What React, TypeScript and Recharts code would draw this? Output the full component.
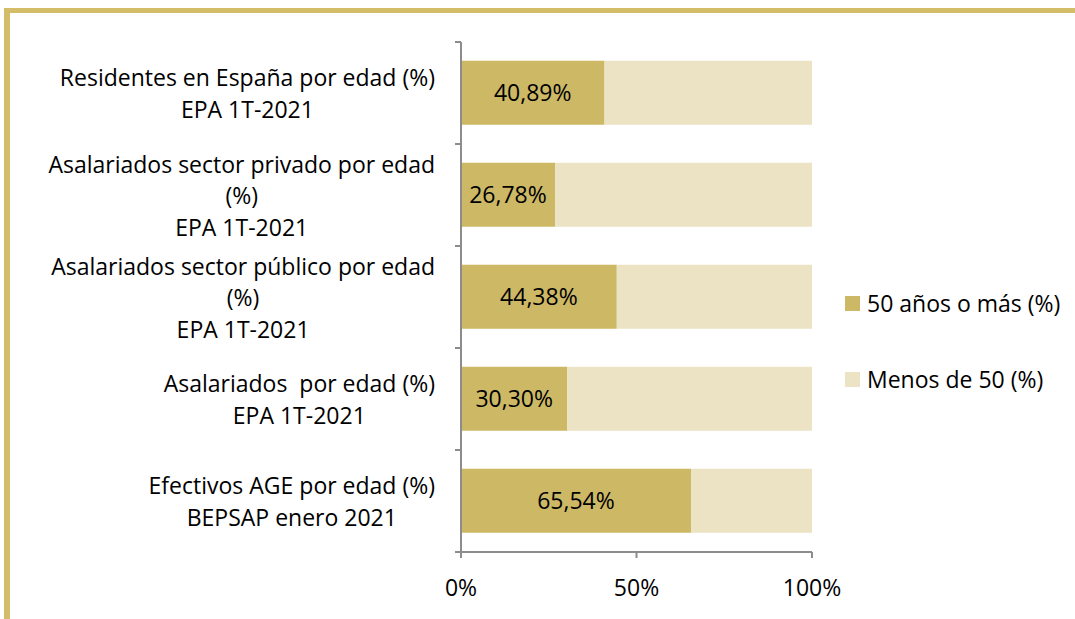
import { Bar, BarChart, LabelList, XAxis, YAxis } from 'recharts';

const categories = [
  ['Residentes en España por edad (%)', 'EPA 1T-2021'],
  ['Asalariados sector privado por edad', '(%)', 'EPA 1T-2021'],
  ['Asalariados sector público por edad', '(%)', 'EPA 1T-2021'],
  ['Asalariados  por edad (%)', 'EPA 1T-2021'],
  ['Efectivos AGE por edad (%)', 'BEPSAP enero 2021']
];
const mayores50 = [40.89, 26.78, 44.38, 30.3, 65.54];
const menores50 = [59.11, 73.22, 55.62, 69.7, 34.46];
const xTicks = [0, 50, 100];
const seriesNames = ['50 años o más (%)', 'Menos de 50 (%)'];

const DARK = '#CDB866';
const LIGHT = '#ECE3C4';
const AXIS = '#8c8c8c';
const FONT = '"Open Sans", sans-serif';
const FS = 23;

const data = categories.map((lines, i) => ({
  name: lines.join('|'),
  mayores: mayores50[i],
  menores: menores50[i]
}));

let ctx: CanvasRenderingContext2D | null = null;
function textWidth(s: string) {
  if (!ctx) ctx = document.createElement('canvas').getContext('2d');
  if (!ctx) return s.length * FS * 0.5;
  ctx.font = `${FS}px ${FONT}`;
  return ctx.measureText(s).width;
}

// category label, plus the small tick marks at the band edges
function CategoryTick(props: any) {
  const { x, y, payload, index, visibleTicksCount } = props;
  const lines: string[] = String(payload.value).split('|');
  const w = Math.max(...lines.map(textWidth));
  const right = x - 18;
  const cx = right - w / 2;
  const step = 31.5;
  const start = y - ((lines.length - 1) * step) / 2;
  const band = (props.height || 510) / (visibleTicksCount || 5);
  const axisX = x + 8;
  return (
    <g>
      <line x1={axisX - 6} x2={axisX} y1={y - band / 2} y2={y - band / 2} stroke={AXIS} strokeWidth={2} />
      {index === visibleTicksCount - 1 && (
        <line x1={axisX - 6} x2={axisX} y1={y + band / 2} y2={y + band / 2} stroke={AXIS} strokeWidth={2} />
      )}
      {lines.map((l, i) => (
        <text key={i} x={cx} y={start + i * step} textAnchor="middle" dominantBaseline="central"
          fontFamily={FONT} fontSize={FS} fill="#000" style={{ whiteSpace: 'pre' }}>
          {l}
        </text>
      ))}
    </g>
  );
}

function LegendBox() {
  const colors = [DARK, LIGHT];
  return (
    <div style={{ position: 'absolute', left: 845, top: 284, fontFamily: FONT, fontSize: FS }}>
      {seriesNames.map((n, i) => (
        <div key={n} style={{ display: 'flex', alignItems: 'center', height: 38, marginBottom: i === 0 ? 38 : 0 }}>
          <span style={{ width: 15, height: 15, background: colors[i], display: 'inline-block', marginRight: 7 }} />
          <span style={{ color: '#000', whiteSpace: 'nowrap' }}>{n}</span>
        </div>
      ))}
    </div>
  );
}

export default function App() {
  return (
    <div style={{ position: 'absolute', left: 0, top: 0, width: 1075, height: 619, background: '#fff', overflow: 'hidden' }}>
      <div style={{ position: 'absolute', left: 4, top: 8, right: -10, bottom: -10,
        borderTop: `5px solid #D3BD69`, borderLeft: `6px solid #D3BD69` }} />
      <div style={{ position: 'absolute', left: 0, top: 0 }}>
        <BarChart width={1075} height={619} data={data} layout="vertical"
          margin={{ top: 42, right: 263, bottom: 17, left: 0 }} barCategoryGap="18.5%">
          <YAxis type="category" dataKey="name" width={461} tickLine={false}
            axisLine={{ stroke: AXIS, strokeWidth: 2 }} tick={<CategoryTick />} interval={0} />
          <XAxis type="number" domain={[0, 100]} ticks={xTicks} tickFormatter={(v) => `${v}%`} height={50}
            axisLine={{ stroke: AXIS, strokeWidth: 2 }} tickLine={{ stroke: AXIS, strokeWidth: 2 }}
            tickSize={6} tickMargin={22}
            tick={{ fontFamily: FONT, fontSize: FS, fill: '#000' }} />
          <Bar dataKey="mayores" name={seriesNames[0]} stackId="a" fill={DARK} isAnimationActive={false}>
            <LabelList dataKey="mayores" position="center" fill="#000" fontFamily={FONT} fontSize={FS}
              formatter={(v: any) => `${Number(v).toFixed(2).replace('.', ',')}%`} />
          </Bar>
          <Bar dataKey="menores" name={seriesNames[1]} stackId="a" fill={LIGHT} isAnimationActive={false} />
        </BarChart>
      </div>
      <LegendBox />
    </div>
  );
}
